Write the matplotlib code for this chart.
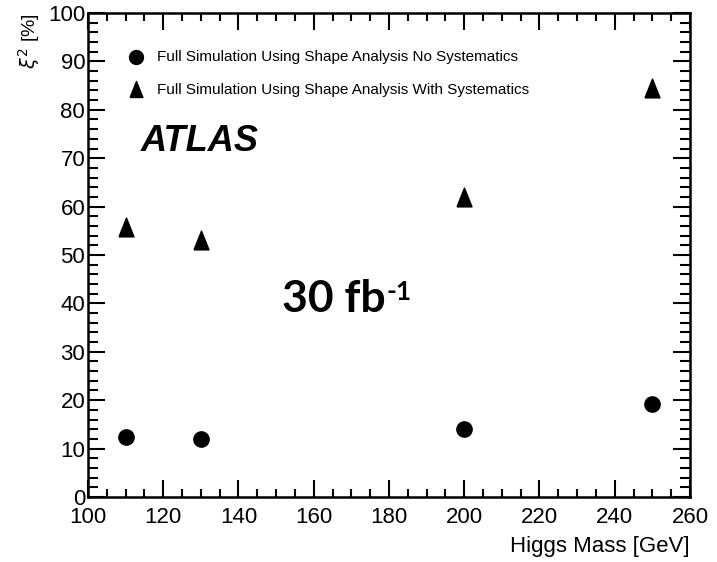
import matplotlib
matplotlib.use("Agg")
import matplotlib.pyplot as plt
from matplotlib.ticker import MultipleLocator

# significance vs Higgs mass, 30 fb^-1
mass = [110, 130, 200, 250]
xi2_no_syst = [12.4, 12.0, 14.0, 19.2]
xi2_with_syst = [55.8, 53.1, 62.0, 84.5]

label_no_syst = "Full Simulation Using Shape Analysis No Systematics"
label_with_syst = "Full Simulation Using Shape Analysis With Systematics"

plt.rcParams['font.family'] = ['Liberation Sans', 'DejaVu Sans']

# ROOT-style triangle, a bit taller than wide
tri = [(-0.8, -1), (0.8, -1), (0, 1), (-0.8, -1)]

fig = plt.figure(figsize=(7.17, 5.62), dpi=100)
ax = fig.add_axes([0.1227, 0.1157, 0.8396, 0.8612])

ax.plot(mass, xi2_no_syst, 'o', color='black', markersize=11, linestyle='none')
ax.plot(mass, xi2_with_syst, marker=tri, color='black', markersize=13.5,
        linestyle='none')

ax.set_xlim(100, 260)
ax.set_ylim(0, 100)
ax.xaxis.set_major_locator(MultipleLocator(20))
ax.xaxis.set_minor_locator(MultipleLocator(5))
ax.yaxis.set_major_locator(MultipleLocator(10))
ax.yaxis.set_minor_locator(MultipleLocator(2))
ax.tick_params(which='both', direction='in', top=True, right=True, width=1.5,
               labelsize=16)
ax.tick_params(axis='x', pad=7)
ax.tick_params(axis='y', pad=2)
ax.tick_params(which='major', length=12.5)
ax.tick_params(axis='x', which='minor', length=5.5)
ax.tick_params(axis='y', which='minor', length=7)
for s in ax.spines.values():
    s.set_linewidth(1.8)

ax.set_xlabel("Higgs Mass [GeV]", fontsize=16, loc='right', labelpad=6)
ax.set_ylabel(r"$\xi^2$ [%]", fontsize=14, loc='top', labelpad=4)

# legend drawn by hand
ax.plot([112.7], [90.9], 'o', color='black', markersize=10, clip_on=False)
ax.text(118.3, 90.9, label_no_syst, fontsize=11, va='center')
ax.plot([112.7], [84.3], marker=tri, color='black', markersize=11.5, clip_on=False)
ax.text(118.3, 84.1, label_with_syst, fontsize=11, va='center')

ax.text(114, 73.5, "ATLAS", fontsize=26, fontweight='bold', fontstyle='italic',
        va='center')

lumi = ax.text(151.5, 41, "30 fb", fontsize=32, fontweight='bold',
               family=['Lato', 'DejaVu Sans'], va='center')
ax.annotate("-1", xy=(1.01, 0.97), xycoords=lumi, va='top', ha='left',
            fontsize=19, fontweight='bold', family=['Lato', 'DejaVu Sans'])

fig.savefig("out.png", dpi=100)
